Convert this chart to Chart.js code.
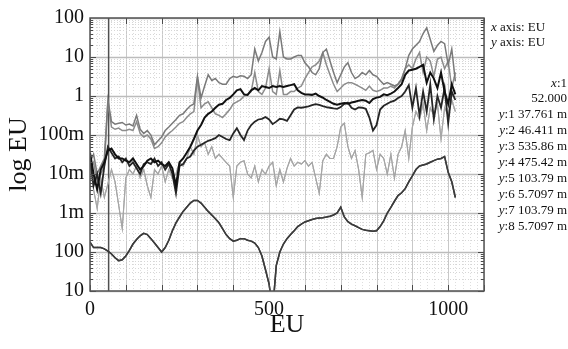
<!DOCTYPE html>
<html><head><meta charset="utf-8">
<script src="https://cdn.jsdelivr.net/npm/chart.js@4.4.0/dist/chart.umd.min.js"></script>
<style>html,body{margin:0;padding:0;background:#fff;overflow:hidden}</style>
</head><body>
<canvas id="c" width="568" height="349"></canvas>
<script>
// ---- data ----
const xValues = [0,10,20,30,40,50,60,70,80,90,100,110,120,130,140,150,160,170,180,190,200,210,220,230,240,250,260,270,280,290,300,310,320,330,340,350,360,370,380,390,400,410,420,430,440,450,460,470,480,490,500,510,520,530,540,550,560,570,580,590,600,610,620,630,640,650,660,670,680,690,700,710,720,730,740,750,760,770,780,790,800,810,820,830,840,850,860,870,880,890,900,910,920,930,940,950,960,970,980,990,1000,1010,1020];

// y1 (thick black)
const series1 = [3.5e-2,1.0e-2,4.0e-3,1.3e-2,2.0e-2,4.0e-2,4.5e-2,3.2e-2,2.5e-2,2.5e-2,2.2e-2,2.0e-2,2.5e-2,1.8e-2,1.3e-2,1.6e-2,2.2e-2,2.5e-2,2.0e-2,2.2e-2,1.8e-2,1.6e-2,2.0e-2,1.4e-2,5.0e-3,2.0e-2,2.5e-2,3.5e-2,5.0e-2,7.9e-2,0.13,0.18,0.28,0.35,0.40,0.50,0.60,0.63,0.79,0.89,1.1,1.4,1.5,1.1,1.07,1.4,1.6,1.4,1.8,1.7,1.6,1.8,1.7,1.8,1.7,1.8,1.9,2.0,1.4,1.2,1.1,1.1,1.07,1.15,1.0,0.91,0.79,0.71,0.63,0.60,0.63,0.66,0.63,0.68,0.71,0.76,0.79,0.76,0.66,0.83,0.91,0.95,1.1,1.05,1.15,1.3,1.6,2.0,3.5,4.5,4.7,5.0,5.6,6.3,2.2,4.0,2.8,1.6,4.0,1.3,0.63,2.0,1.1];
// y2 (black)
const series2 = [2.5e-2,5.0e-3,1.0e-2,3.2e-3,1.6e-2,5.0e-2,3.5e-2,2.5e-2,2.8e-2,2.0e-2,2.5e-2,1.6e-2,2.0e-2,1.4e-2,1.0e-2,1.8e-2,2.0e-2,1.8e-2,2.5e-2,1.6e-2,2.0e-2,1.3e-2,1.8e-2,1.0e-2,3.2e-3,1.6e-2,1.8e-2,2.5e-2,2.8e-2,4.0e-2,5.0e-2,5.6e-2,6.3e-2,7.1e-2,7.6e-2,8.3e-2,0.10,8.9e-2,7.9e-2,7.4e-2,0.11,0.15,0.10,7.4e-2,0.13,0.18,0.22,0.25,0.26,0.29,0.25,0.19,0.22,0.26,0.25,0.23,0.32,0.45,0.51,0.50,0.52,0.54,0.58,0.62,0.59,0.55,0.52,0.50,0.48,0.47,0.52,0.63,0.68,0.50,0.45,0.51,0.50,0.47,0.28,0.13,0.18,0.45,0.56,0.63,0.71,0.76,0.89,1.0,1.3,1.9,0.50,1.6,0.32,1.3,0.40,2.0,0.25,1.0,0.50,1.6,0.20,1.3,0.79];
// y3 (upper grey)
const series3 = [2.0e-2,3.2e-2,1.0e-2,1.6e-2,2.5e-2,0.79,0.22,0.19,0.20,0.21,0.18,0.19,0.17,0.32,0.14,0.11,0.13,0.10,0.056,0.071,0.089,0.13,0.16,0.20,0.25,0.32,0.35,0.45,0.56,0.63,3.2,0.89,1.8,3.5,2.5,2.8,2.2,2.0,2.0,2.8,3.2,3.0,3.3,3.2,2.8,3.5,16,7.9,13,25,32,10,8.9,45,10,8.9,8.9,10,11,11,7.1,5.6,4.0,3.5,5.0,13,16,7.9,4.0,2.2,3.5,5.6,7.1,4.0,2.8,3.2,4.0,3.5,4.5,3.5,3.2,2.5,2.0,2.2,2.0,1.8,2.0,2.8,5.0,11,16,20,25,40,56,28,14,20,25,22,6.3,16,2.4];
// y4 (grey)
const series4 = [1.3e-2,2.0e-2,6.3e-3,1.0e-2,1.6e-2,0.71,0.16,0.14,0.15,0.13,0.13,0.14,0.13,0.22,0.11,0.089,0.10,0.079,0.045,0.050,0.063,0.089,0.11,0.13,0.16,0.20,0.22,0.28,0.35,0.40,2.8,0.50,0.63,0.71,0.50,0.35,0.32,0.28,0.35,0.45,0.63,0.71,0.79,1.0,1.1,1.3,4.0,1.3,1.1,1.6,5.0,1.3,1.1,4.5,1.1,1.1,1.3,1.3,1.6,1.8,2.8,4.0,5.6,6.3,7.9,13,6.3,3.5,2.0,1.3,1.6,2.0,2.2,2.2,2.0,1.8,1.6,1.4,1.8,1.4,1.3,1.4,1.6,1.6,1.8,1.6,2.0,2.5,5.0,6.3,5.0,8.9,13,4.0,10,7.9,3.2,8.9,10,5.0,7.9,1.6,4.0];
// y5 = y7 (smooth lower curve)
const series5 = [1.8e-4,1.3e-4,1.3e-4,1.3e-4,1.2e-4,1.05e-4,8.9e-5,7.1e-5,6.0e-5,6.3e-5,7.9e-5,1.1e-4,1.6e-4,2.1e-4,2.6e-4,3.0e-4,2.8e-4,2.2e-4,1.7e-4,1.3e-4,1.0e-4,1.3e-4,2.0e-4,3.5e-4,5.6e-4,7.9e-4,1.1e-3,1.4e-3,1.8e-3,2.1e-3,2.1e-3,1.8e-3,1.4e-3,1.1e-3,8.9e-4,7.1e-4,5.6e-4,4.0e-4,2.8e-4,2.2e-4,1.9e-4,2.0e-4,2.2e-4,2.2e-4,2.0e-4,1.9e-4,1.7e-4,1.3e-4,7.9e-5,3.5e-5,1.5e-5,3.2e-6,4.5e-5,1.0e-4,1.6e-4,2.2e-4,2.8e-4,3.5e-4,4.5e-4,5.2e-4,5.9e-4,6.3e-4,6.8e-4,7.2e-4,7.4e-4,7.6e-4,7.9e-4,8.3e-4,8.9e-4,1.0e-3,1.4e-3,7.9e-4,6.0e-4,5.2e-4,4.7e-4,4.2e-4,3.8e-4,3.6e-4,3.5e-4,3.4e-4,3.5e-4,4.5e-4,6.3e-4,1.0e-3,1.4e-3,2.0e-3,2.8e-3,3.3e-3,4.2e-3,6.3e-3,8.9e-3,1.3e-2,1.6e-2,1.7e-2,1.8e-2,2.0e-2,2.2e-2,2.4e-2,2.5e-2,2.8e-2,1.1e-2,6.3e-3,2.5e-3];
// y6 = y8 (light grey noisy)
const series6 = [1.6e-2,4.0e-3,1.3e-3,7.9e-3,2.5e-3,5.6e-3,1.3e-2,6.3e-3,1.6e-3,4.0e-4,7.9e-3,1.3e-2,1.0e-2,1.6e-2,7.9e-3,1.3e-2,5.0e-3,2.5e-3,1.3e-2,1.0e-2,1.6e-2,6.3e-3,1.3e-2,7.9e-3,1.0e-2,2.0e-2,1.6e-2,2.5e-2,5.0e-2,3.2e-2,0.10,5.0e-2,6.3e-2,3.2e-2,5.0e-2,2.5e-2,3.2e-2,2.5e-2,2.0e-2,1.6e-2,2.5e-3,1.6e-2,2.0e-2,2.2e-2,1.0e-2,7.9e-3,1.6e-2,6.3e-3,1.3e-2,1.0e-2,1.6e-2,2.0e-2,5.0e-3,1.3e-2,6.3e-3,1.4e-2,2.5e-2,1.6e-2,2.0e-2,1.8e-2,2.2e-2,1.6e-2,2.0e-2,7.9e-3,3.2e-3,2.2e-2,3.2e-2,2.5e-2,2.5e-2,5.0e-2,0.16,0.20,5.0e-2,2.5e-2,4.0e-2,1.3e-2,2.5e-3,3.2e-2,3.5e-2,4.0e-2,1.3e-2,3.2e-2,2.5e-2,1.0e-2,3.2e-2,7.9e-3,3.2e-2,5.0e-2,0.13,2.5e-2,0.16,0.40,0.25,0.63,0.13,0.50,0.32,0.63,7.9e-2,0.50,0.32,0.79,0.40];

const seriesNames = ['y:1','y:2','y:3','y:4','y:5','y:6','y:7','y:8'];
const seriesColors = ['#111111','#262626','#7a7a7a','#8c8c8c','#3c3c3c','#a6a6a6','#3c3c3c','#a6a6a6'];
const seriesWidths = [2,1.8,1.5,1.5,1.5,1.1,1.5,1.1];
const seriesData = [series1,series2,series3,series4,series5,series6,series5,series6];

const xTickValues = [0,500,1000];
const xTickLabels = ['0','500','1000'];
const yTickValues = [1e-5,1e-4,1e-3,1e-2,1e-1,1,10,100];
const yTickLabels = ['10','100','1m','10m','100m','1','10','100'];

const cursorX = 52;
const cursorXLabel = '52.000';
const readoutValues = ['37.761 m','46.411 m','535.86 m','475.42 m','103.79 m','5.7097 m','103.79 m','5.7097 m'];

const FONT = '"Liberation Serif","Times New Roman",serif';

// ---- plugin: grid, inward ticks, frame, cursor, side text ----
const framePlugin = {
  id: 'frame',
  beforeDatasetsDraw(chart) {
    const {ctx, chartArea: a, scales: {x, y}} = chart;
    ctx.save();
    ctx.lineWidth = 1;
    // vertical grid
    for (let v = 0; v <= 1100; v += 20) {
      const px = Math.round(x.getPixelForValue(v)) + 0.5;
      const major = v % 100 === 0;
      ctx.strokeStyle = major ? '#c8c8c8' : '#dedede';
      ctx.setLineDash(major ? [] : [1, 2]);
      ctx.beginPath(); ctx.moveTo(px, a.top); ctx.lineTo(px, a.bottom); ctx.stroke();
    }
    // horizontal grid (minor)
    for (let e = -5; e < 2; e++) {
      for (let m = 2; m <= 9; m++) {
        const py = Math.round(y.getPixelForValue(m * Math.pow(10, e))) + 0.5;
        ctx.strokeStyle = '#d6d6d6';
        ctx.setLineDash([1, 2]);
        ctx.beginPath(); ctx.moveTo(a.left, py); ctx.lineTo(a.right, py); ctx.stroke();
      }
    }
    ctx.setLineDash([]);
    yTickValues.forEach(v => {
      const py = Math.round(y.getPixelForValue(v)) + 0.5;
      ctx.strokeStyle = '#bcbcbc';
      ctx.lineWidth = 1.5;
      ctx.beginPath(); ctx.moveTo(a.left, py); ctx.lineTo(a.right, py); ctx.stroke();
    });
    // cursor
    const cx = x.getPixelForValue(cursorX);
    ctx.strokeStyle = '#505050';
    ctx.lineWidth = 1.5;
    ctx.beginPath(); ctx.moveTo(cx, a.top); ctx.lineTo(cx, a.bottom); ctx.stroke();
    ctx.restore();
  },
  afterDatasetsDraw(chart) {
    const {ctx, chartArea: a, scales: {x, y}} = chart;
    ctx.save();
    ctx.strokeStyle = '#4a4a4a';
    ctx.lineWidth = 1;
    // inward ticks y (left and right)
    for (let e = -5; e < 2; e++) {
      for (let m = 1; m <= 9; m++) {
        const py = Math.round(y.getPixelForValue(m * Math.pow(10, e))) + 0.5;
        const len = m === 1 ? 6 : 3;
        ctx.beginPath();
        ctx.moveTo(a.left, py); ctx.lineTo(a.left + len, py);
        ctx.moveTo(a.right, py); ctx.lineTo(a.right - len, py);
        ctx.stroke();
      }
    }
    // inward ticks x (top and bottom)
    for (let v = 0; v <= 1100; v += 100) {
      const px = Math.round(x.getPixelForValue(v)) + 0.5;
      ctx.beginPath();
      ctx.moveTo(px, a.bottom); ctx.lineTo(px, a.bottom - 6);
      ctx.moveTo(px, a.top); ctx.lineTo(px, a.top + 6);
      ctx.stroke();
    }
    // frame
    ctx.lineWidth = 1.5;
    ctx.strokeStyle = '#555';
    ctx.strokeRect(a.left, a.top, a.right - a.left, a.bottom - a.top);

    // side text
    ctx.fillStyle = '#111';
    ctx.textBaseline = 'middle';
    const nf = '13px ' + FONT, itf = 'italic 13px ' + FONT;
    const mixed = (it, rest, xr, yy, alignRight) => {
      ctx.font = itf; const w1 = ctx.measureText(it).width;
      ctx.font = nf; const w2 = ctx.measureText(rest).width;
      const x0 = alignRight ? xr - w1 - w2 : xr;
      ctx.font = itf; ctx.textAlign = 'left'; ctx.fillText(it, x0, yy);
      ctx.font = nf; ctx.fillText(rest, x0 + w1, yy);
    };
    mixed('x', ' axis: EU', 491, 28, false);
    mixed('y', ' axis: EU', 491, 43, false);
    mixed('x', ':1', 567, 84, true);
    ctx.font = nf; ctx.textAlign = 'right'; ctx.fillText(cursorXLabel, 567, 99);
    seriesNames.forEach((n, i) => {
      mixed(n.slice(0, 1), n.slice(1) + ' ' + readoutValues[i], 567, 115 + i * 16, true);
    });
    ctx.restore();
  }
};

const datasets = seriesData.map((arr, i) => ({
  label: seriesNames[i],
  data: xValues.map((xv, j) => ({x: xv, y: arr[j]})),
  borderColor: seriesColors[i],
  borderWidth: seriesWidths[i],
  pointRadius: 0,
  tension: 0,
  fill: false
}));

new Chart(document.getElementById('c'), {
  type: 'line',
  data: {datasets},
  options: {
    responsive: false,
    animation: false,
    devicePixelRatio: 1,
    parsing: false,
    layout: {padding: {left: 0, right: 84, top: 12, bottom: 4}},
    plugins: {legend: {display: false}, tooltip: {enabled: false}},
    scales: {
      x: {
        type: 'linear', min: 0, max: 1100,
        afterBuildTicks: s => { s.ticks = xTickValues.map(v => ({value: v})); },
        ticks: {font: {family: FONT, size: 20}, color: '#111', padding: 7, maxRotation: 0, autoSkip: false,
                callback: (v, i) => xTickLabels[i]},
        grid: {display: false, drawTicks: false},
        border: {display: false},
        title: {display: true, text: 'EU', font: {family: FONT, size: 26}, color: '#111', padding: {top: 0, bottom: 4}},
        afterFit: s => { s.height = 54; }
      },
      y: {
        type: 'logarithmic', min: 1e-5, max: 100,
        afterBuildTicks: s => { s.ticks = yTickValues.map(v => ({value: v})); },
        ticks: {font: {family: FONT, size: 20}, color: '#111', padding: 6, autoSkip: false,
                callback: (v, i) => yTickLabels[i]},
        grid: {display: false, drawTicks: false},
        border: {display: false},
        title: {display: true, text: 'log EU', font: {family: FONT, size: 26}, color: '#111'},
        afterFit: s => { s.width = 90; }
      }
    }
  },
  plugins: [framePlugin]
});
</script>
</body></html>
